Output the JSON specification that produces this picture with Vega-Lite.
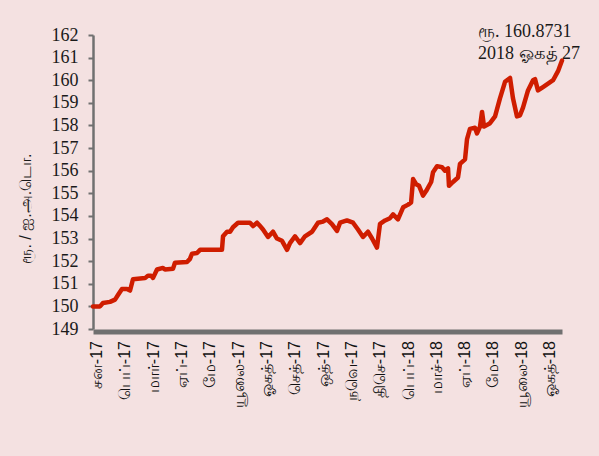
{
  "$schema": "https://vega.github.io/schema/vega-lite/v6.json",
  "width": 469,
  "height": 294,
  "autosize": {"type": "none"},
  "padding": {"left": 93, "top": 35, "right": 37, "bottom": 127},
  "background": "#f4e1e1",
  "config": {"view": {"stroke": null}},
  "layer": [
    {
      "data": {"values": [
        {"t":0,"v":150.0},{"t":6.0,"v":150.0},{"t":8.5,"v":150.15},{"t":14.5,"v":150.2},{"t":18.8,"v":150.3},{"t":21.3,"v":150.5},{"t":24.7,"v":150.77},{"t":29.0,"v":150.77},{"t":31.6,"v":150.7},{"t":34.1,"v":151.2},{"t":44.4,"v":151.25},{"t":46.9,"v":151.36},{"t":49.5,"v":151.36},{"t":51.2,"v":151.26},{"t":54.6,"v":151.63},{"t":59.7,"v":151.7},{"t":61.4,"v":151.63},{"t":68.2,"v":151.66},{"t":69.9,"v":151.93},{"t":80.2,"v":151.96},{"t":82.7,"v":152.1},{"t":84.4,"v":152.33},{"t":88.7,"v":152.36},{"t":91.3,"v":152.5},{"t":110.0,"v":152.5},{"t":110.9,"v":153.1},{"t":114.3,"v":153.3},{"t":116.9,"v":153.3},{"t":119.4,"v":153.5},{"t":123.7,"v":153.7},{"t":133.9,"v":153.7},{"t":136.5,"v":153.55},{"t":139.9,"v":153.7},{"t":142.5,"v":153.55},{"t":145.0,"v":153.4},{"t":149.3,"v":153.07},{"t":153.5,"v":153.3},{"t":156.9,"v":153.0},{"t":161.2,"v":152.9},{"t":165.5,"v":152.5},{"t":168.0,"v":152.8},{"t":172.3,"v":153.1},{"t":176.6,"v":152.8},{"t":180.8,"v":153.1},{"t":186.8,"v":153.3},{"t":191.9,"v":153.7},{"t":196.2,"v":153.75},{"t":199.6,"v":153.85},{"t":203.8,"v":153.64},{"t":208.1,"v":153.34},{"t":210.7,"v":153.7},{"t":216.6,"v":153.8},{"t":221.8,"v":153.7},{"t":226.0,"v":153.4},{"t":230.3,"v":153.07},{"t":234.5,"v":153.3},{"t":238.0,"v":153.0},{"t":242.2,"v":152.6},{"t":244.8,"v":153.65},{"t":249.1,"v":153.8},{"t":253.3,"v":153.9},{"t":255.9,"v":154.07},{"t":260.1,"v":153.85},{"t":264.5,"v":154.38},{"t":268.8,"v":154.5},{"t":271.3,"v":154.6},{"t":273.0,"v":155.63},{"t":275.6,"v":155.4},{"t":278.1,"v":155.33},{"t":281.5,"v":154.9},{"t":284.1,"v":155.1},{"t":288.4,"v":155.5},{"t":290.0,"v":155.93},{"t":293.4,"v":156.2},{"t":297.7,"v":156.15},{"t":300.2,"v":156.0},{"t":302.8,"v":156.1},{"t":303.6,"v":155.33},{"t":307.0,"v":155.5},{"t":311.3,"v":155.7},{"t":313.0,"v":156.3},{"t":317.3,"v":156.5},{"t":319.0,"v":157.4},{"t":321.5,"v":157.85},{"t":325.8,"v":157.9},{"t":327.5,"v":157.65},{"t":330.1,"v":157.95},{"t":331.8,"v":158.6},{"t":333.5,"v":157.95},{"t":338.6,"v":158.1},{"t":342.9,"v":158.4},{"t":347.1,"v":159.2},{"t":351.4,"v":159.93},{"t":355.7,"v":160.1},{"t":358.2,"v":159.2},{"t":361.6,"v":158.4},{"t":364.2,"v":158.45},{"t":366.8,"v":158.8},{"t":371.0,"v":159.55},{"t":375.3,"v":160.0},{"t":377.0,"v":160.05},{"t":379.5,"v":159.55},{"t":383.8,"v":159.7},{"t":388.1,"v":159.85},{"t":392.4,"v":160.0},{"t":396.6,"v":160.4},{"t":400.0,"v":160.87}
      ]},
      "mark": {"type": "line", "color": "#cf1d00", "strokeWidth": 4.5, "strokeJoin": "round", "strokeCap": "round"},
      "encoding": {
        "x": {
          "field": "t", "type": "quantitative",
          "scale": {"domain": [0, 400], "nice": false, "zero": false},
          "axis": {
            "title": null,
            "values": [3, 27.2, 51.3, 75.5, 99.6, 123.8, 147.9, 172.1, 196.2, 220.4, 244.5, 268.7, 292.8, 317, 341.1, 365.3, 389.4],
            "tickCount": 40,
            "labelExpr": "['சன-17','பெப்-17','மார்-17','ஏப்-17','மே-17','யூலை-17','ஓகத்-17','செத்-17','ஒத்-17','நவெ-17','திசெ-17','பெப்-18','மாச்-18','ஏப்-18','மே-18','யூலை-18','ஓகத்-18'][round((datum.value-3)/24.15)]",
            "labelAngle": -90,
            "labelFontSize": 16,
            "labelColor": "#111111",
            "labelFlush": false,
            "labelOverlap": false,
            "labelPadding": 9,
            "ticks": false,
            "grid": false,
            "offset": 2.5,
            "domainColor": "#707070",
            "domainWidth": 5
          }
        },
        "y": {
          "field": "v", "type": "quantitative",
          "scale": {"domain": [149, 162], "nice": false, "zero": false},
          "axis": {
            "title": "ரூ. / ஐ.அ.டொ.",
            "values": [149,150,151,152,153,154,155,156,157,158,159,160,161,162],
            "tickCount": 40,
            "format": "d",
            "grid": false,
            "domainColor": "#707070",
            "domainWidth": 2.5,
            "tickColor": "#707070",
            "tickWidth": 2,
            "tickSize": 5,
            "labelFont": "Liberation Serif",
            "labelFontSize": 18,
            "labelColor": "#1a1a1a",
            "labelPadding": 10,
            "labelOverlap": false,
            "labelFlush": false,
            "titleFontSize": 16,
            "titleFontWeight": "normal",
            "titleColor": "#1a1a1a",
            "titleAngle": -90,
            "titleX": -68,
            "titleY": 173,
            "titleAlign": "center",
            "titleBaseline": "middle"
          }
        }
      }
    },
    {
      "data": {"values": [{"t": 328.4, "v": 161.89, "label": "ரூ. 160.8731\n2018  ஓகத்  27"}]},
      "mark": {"type": "text", "align": "left", "baseline": "alphabetic", "font": "Liberation Serif", "fontSize": 18, "lineHeight": 22, "lineBreak": "\n", "color": "#1a1a1a", "clip": false},
      "encoding": {
        "x": {"field": "t", "type": "quantitative"},
        "y": {"field": "v", "type": "quantitative"},
        "text": {"field": "label", "type": "nominal"}
      }
    }
  ]
}
